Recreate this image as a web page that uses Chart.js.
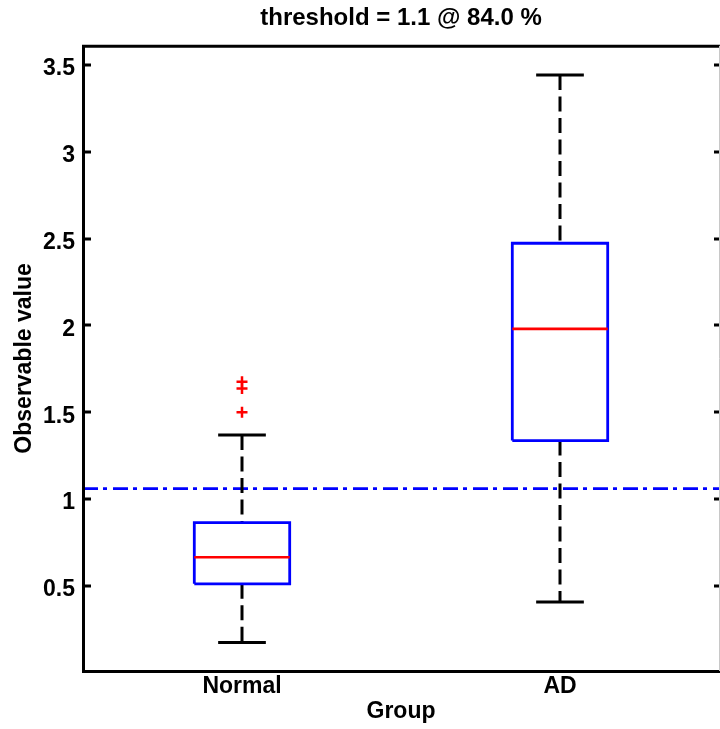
<!DOCTYPE html>
<html>
<head>
<meta charset="utf-8">
<title>threshold boxplot</title>
<script src="https://cdn.jsdelivr.net/npm/chart.js@4.4.1/dist/chart.umd.min.js"></script>
<style>
  html, body { margin: 0; padding: 0; background: #fff; }
  canvas { display: block; }
</style>
</head>
<body>
<canvas id="chart-box" width="720" height="729"></canvas>
<script>
// groups + box stats
let groups = ['Normal', 'AD']
let whiskerLow = [0.174, 0.408]
let q1 = [0.512, 1.337]
let median = [0.665, 1.980]
let q3 = [0.864, 2.473]
let whiskerHigh = [1.369, 3.442]
let outliers = [[1.500, 1.637, 1.675], []]
let threshold = 1.06
let yTicks = [0.5, 1, 1.5, 2, 2.5, 3, 3.5]
let titleText = 'threshold = 1.1 @ 84.0 %'

const BOX_HALF = 0.15   // box half width (x units)
const CAP_HALF = 0.075  // whisker cap half width

Chart.defaults.font.family = "'Liberation Sans', Arial, sans-serif"
Chart.defaults.font.weight = 'bold'
Chart.defaults.color = '#000'

// push a segment and a gap so one dataset can hold many pieces
let seg = (arr, x1, y1, x2, y2) => {
	arr.push({x: x1, y: y1}, {x: x2, y: y2}, {x: x2, y: null})
}

let whiskers = [], caps = [], boxes = [], medians = [], outlierPts = []
groups.forEach((g, i) => {
	let x = i + 1
	seg(whiskers, x, whiskerHigh[i], x, q3[i])
	seg(whiskers, x, q1[i], x, whiskerLow[i])
	seg(caps, x - CAP_HALF, whiskerHigh[i], x + CAP_HALF, whiskerHigh[i])
	seg(caps, x - CAP_HALF, whiskerLow[i], x + CAP_HALF, whiskerLow[i])
	boxes.push(
		{x: x - BOX_HALF, y: q1[i]}, {x: x + BOX_HALF, y: q1[i]},
		{x: x + BOX_HALF, y: q3[i]}, {x: x - BOX_HALF, y: q3[i]},
		{x: x - BOX_HALF, y: q1[i]}, {x: x - BOX_HALF, y: null}
	)
	seg(medians, x - BOX_HALF, median[i], x + BOX_HALF, median[i])
	outliers[i].forEach(v => outlierPts.push({x: x, y: v}))
})

let lineSet = (data, color, width, dash) => ({
	data,
	showLine: true,
	borderColor: color,
	borderWidth: width,
	borderDash: dash || [],
	borderCapStyle: 'butt',
	pointRadius: 0,
	tension: 0,
	spanGaps: false,
})

// MATLAB style frame: thick left/top/bottom, inward ticks both sides
const framePlugin = {
	id: 'frame',
	afterDatasetsDraw(chart) {
		const {ctx, chartArea: a, scales: {y}} = chart
		ctx.save()
		ctx.strokeStyle = '#000'
		ctx.lineWidth = 3
		ctx.beginPath()
		ctx.moveTo(a.right + 2, a.top + 0.5)
		ctx.lineTo(a.left + 0.5, a.top + 0.5)
		ctx.lineTo(a.left + 0.5, a.bottom + 0.5)
		ctx.lineTo(a.right + 2, a.bottom + 0.5)
		ctx.stroke()
		yTicks.forEach(v => {
			const py = Math.round(y.getPixelForValue(v))
			ctx.beginPath()
			ctx.moveTo(a.left, py)
			ctx.lineTo(a.left + 8, py)
			ctx.moveTo(a.right - 5, py)
			ctx.lineTo(a.right + 1, py)
			ctx.stroke()
		})
		ctx.lineWidth = 1
		ctx.strokeStyle = '#c8c8c8'
		ctx.beginPath()
		ctx.moveTo(a.right + 0.5, a.top)
		ctx.lineTo(a.right + 0.5, a.bottom)
		ctx.stroke()
		ctx.restore()
	}
}

var chart = new Chart(document.getElementById('chart-box'), {
	type: 'scatter',
	data: {
		datasets: [
			{
				data: outlierPts,
				pointStyle: 'cross',
				pointRadius: 5.5,
				pointBorderWidth: 2.5,
				pointBorderColor: '#ff0000',
				pointBackgroundColor: '#ff0000',
			},
			lineSet(medians, '#ff0000', 2.7),
			lineSet(boxes, '#0000ff', 2.8),
			lineSet(caps, '#000', 3),
			lineSet(whiskers, '#000', 3, [15, 6.5]),
			lineSet([{x: 0.5, y: threshold}, {x: 2.5, y: threshold}], '#0000ff', 2.8, [15, 5, 4, 6]),
		]
	},
	options: {
		responsive: false,
		animation: false,
		events: [],
		layout: { padding: { right: 1 }, autoPadding: false },
		plugins: {
			legend: { display: false },
			tooltip: { enabled: false },
			title: {
				display: true,
				fullSize: false,
				text: titleText,
				color: '#000',
				font: { size: 24, weight: 'bold' },
				padding: { top: 4, bottom: 13 },
			},
		},
		scales: {
			x: {
				type: 'linear',
				min: 0.5,
				max: 2.5,
				grid: { display: false, drawTicks: false },
				border: { display: false },
				afterBuildTicks: s => { s.ticks = groups.map((g, i) => ({value: i + 1})) },
				afterFit: s => { s.height = 58 },
				ticks: {
					padding: 2,
					font: { size: 23, weight: 'bold' },
					callback: v => groups[v - 1],
				},
				title: {
					display: true,
					text: 'Group',
					font: { size: 23, weight: 'bold' },
					padding: { top: 0, bottom: 4 },
				},
			},
			y: {
				min: 0.01,
				max: 3.61,
				grid: { display: false, drawTicks: false },
				border: { display: false },
				afterBuildTicks: s => { s.ticks = yTicks.map(v => ({value: v})) },
				afterFit: s => { s.width = 83 },
				ticks: {
					padding: 8,
					labelOffset: 4,
					font: { size: 23, weight: 'bold' },
					callback: v => String(v),
				},
				title: {
					display: true,
					text: 'Observable value',
					font: { size: 23, weight: 'bold' },
					padding: { top: 11, bottom: 0 },
				},
			},
		},
	},
	plugins: [framePlugin],
})
</script>
</body>
</html>
